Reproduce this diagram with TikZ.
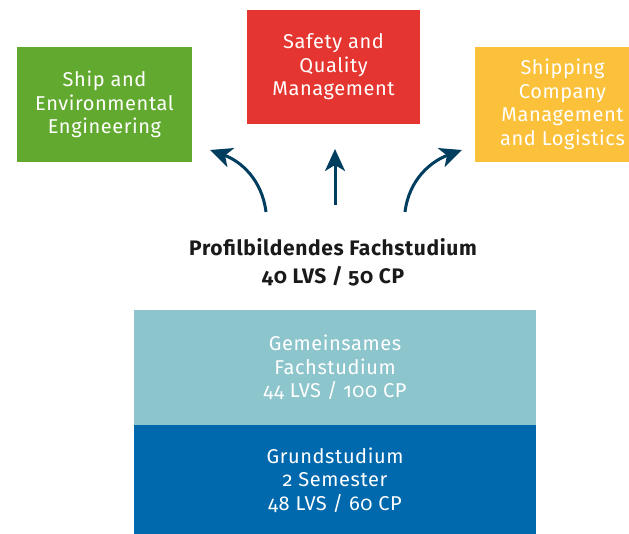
\documentclass[tikz,border=0pt]{standalone}
\usepackage{fontspec}
\setmainfont{Fira Sans}[Numbers=OldStyle, LetterSpace=3]
\usetikzlibrary{arrows.meta}
\definecolor{cgreen}{HTML}{62AA2F}
\definecolor{cred}{HTML}{E53530}
\definecolor{cyellow}{HTML}{FCC13B}
\definecolor{cteal}{HTML}{8DC5CC}
\definecolor{cblue}{HTML}{0069AD}
\definecolor{cnavy}{HTML}{003E60}
\definecolor{ctext}{HTML}{1A1A1A}
\begin{document}
\begin{tikzpicture}[x=1pt,y=-1pt,
  box/.style={rectangle, text=white, align=center, inner sep=0pt,
    font=\fontsize{20}{23.5}\selectfont},
  topbox/.style={box, minimum width=175pt, minimum height=115pt},
  basebox/.style={box, minimum width=402pt},
  flow/.style={draw=cnavy, line width=3pt,
    -{Stealth[length=22pt,width=20pt,inset=6pt]}}]
\useasboundingbox (0,0) rectangle (629,534);
\clip (0,0) rectangle (629,534);
\fill[white] (0,0) rectangle (629,534);

\node[topbox, fill=cgreen] (ship) at (104.5,104.5) {Ship and\\Environmental\\Engineering};
\node[topbox, fill=cred, minimum width=173pt, minimum height=114pt] (safety) at (333.5,67) {Safety and\\Quality\\Management};
\node[topbox, fill=cyellow] (shipping) at (562.5,104.5) {Shipping\\Company\\Management\\and Logistics};

\node[align=center, text=ctext, inner sep=0pt,
  font=\fontsize{21}{28}\selectfont\bfseries] (profil) at (333,262)
  {Profilbildendes Fachstudium\\40 LVS / 50 CP};

\node[basebox, fill=cteal, minimum height=115pt] (gemein) at (335,367.5)
  {Gemeinsames\\Fachstudium\\44 LVS / 100 CP};
\node[basebox, fill=cblue, minimum height=109pt, anchor=north] (grund) at (gemein.south)
  {Grundstudium\\2 Semester\\48 LVS / 60 CP};

\coordinate (tl) at (266,212);
\coordinate (tm) at (335,205);
\coordinate (tr) at (405,212);
\coordinate (hl) at (210,150);
\coordinate (hm) at (335,149);
\coordinate (hr) at (462,150);

\draw[flow] (tl) to[out=97, in=-20] (hl);
\draw[flow] (tm) -- (hm);
\draw[flow] (tr) to[out=83, in=200] (hr);
\end{tikzpicture}
\end{document}
